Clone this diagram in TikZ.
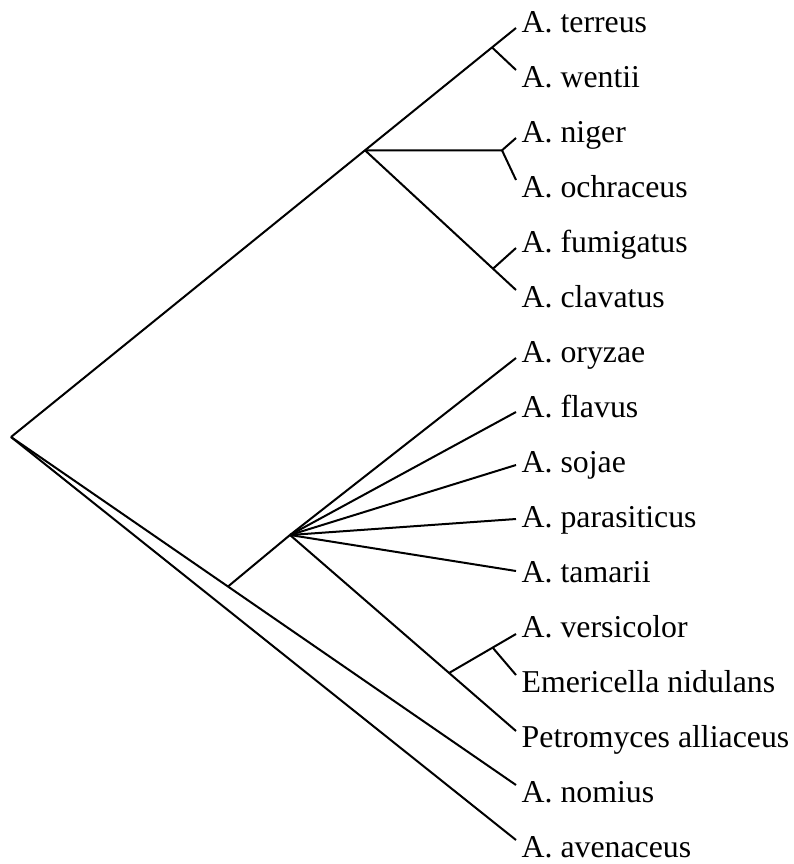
\documentclass[tikz,border=0pt]{standalone}
\usepackage{fontspec}
\setmainfont{Liberation Serif}
\begin{document}
\begin{tikzpicture}[x=1pt,y=-1pt,
  branch/.style={line width=2pt},
  taxon/.style={anchor=base west,inner sep=0pt,font=\fontsize{31.8}{38}\selectfont}]
\useasboundingbox (0,0) rectangle (793,864);
% internal nodes
\coordinate (R) at (11,437);
\coordinate (U) at (365,150.3);
\coordinate (A) at (492,47.4);
\coordinate (N) at (502,150.3);
\coordinate (F) at (493,268.7);
\coordinate (L1) at (228,586.5);
\coordinate (L2) at (290,535);
\coordinate (L3) at (449,673);
\coordinate (E) at (493,648);
% tips
\coordinate (t1) at (516,28);
\coordinate (t2) at (516,70);
\coordinate (t3) at (516,138);
\coordinate (t4) at (516,180);
\coordinate (t5) at (516,248);
\coordinate (t6) at (516,290);
\coordinate (t7) at (516,358);
\coordinate (t8) at (516,412);
\coordinate (t9) at (516,465);
\coordinate (t10) at (516,519);
\coordinate (t11) at (516,571);
\coordinate (t12) at (516,634);
\coordinate (t13) at (516,675);
\coordinate (t14) at (516,731);
\coordinate (t15) at (516,785);
\coordinate (t16) at (516,840);
% labels
\node[taxon] (n1) at (521.5,32.5) {A. terreus};
\node[taxon] (n2) at (521.5,87.5) {A. wentii};
\node[taxon] (n3) at (521.5,142.5) {A. niger};
\node[taxon] (n4) at (521.5,197.5) {A. ochraceus};
\node[taxon] (n5) at (521.5,252.5) {A. fumigatus};
\node[taxon] (n6) at (521.5,307.5) {A. clavatus};
\node[taxon] (n7) at (521.5,362.5) {A. oryzae};
\node[taxon] (n8) at (521.5,417.5) {A. flavus};
\node[taxon] (n9) at (521.5,472.5) {A. sojae};
\node[taxon] (n10) at (521.5,527.5) {A. parasiticus};
\node[taxon] (n11) at (521.5,582.5) {A. tamarii};
\node[taxon] (n12) at (521.5,637.5) {A. versicolor};
\node[taxon] (n13) at (521.5,692.5) {Emericella nidulans};
\node[taxon] (n14) at (521.5,747.5) {Petromyces alliaceus};
\node[taxon] (n15) at (521.5,802.5) {A. nomius};
\node[taxon] (n16) at (521.5,857.5) {A. avenaceus};
% branches
\draw[branch] (R) -- (t1);
\draw[branch] (A) -- (t2);
\draw[branch] (U) -- (N) -- (t3);
\draw[branch] (N) -- (t4);
\draw[branch] (U) -- (t6);
\draw[branch] (F) -- (t5);
\draw[branch] (R) -- (t15);
\draw[branch] (R) -- (t16);
\draw[branch] (L1) -- (L2);
\draw[branch] (L2) -- (t7);
\draw[branch] (L2) -- (t8);
\draw[branch] (L2) -- (t9);
\draw[branch] (L2) -- (t10);
\draw[branch] (L2) -- (t11);
\draw[branch] (L2) -- (t14);
\draw[branch] (L3) -- (t12);
\draw[branch] (E) -- (t13);
\end{tikzpicture}
\end{document}
